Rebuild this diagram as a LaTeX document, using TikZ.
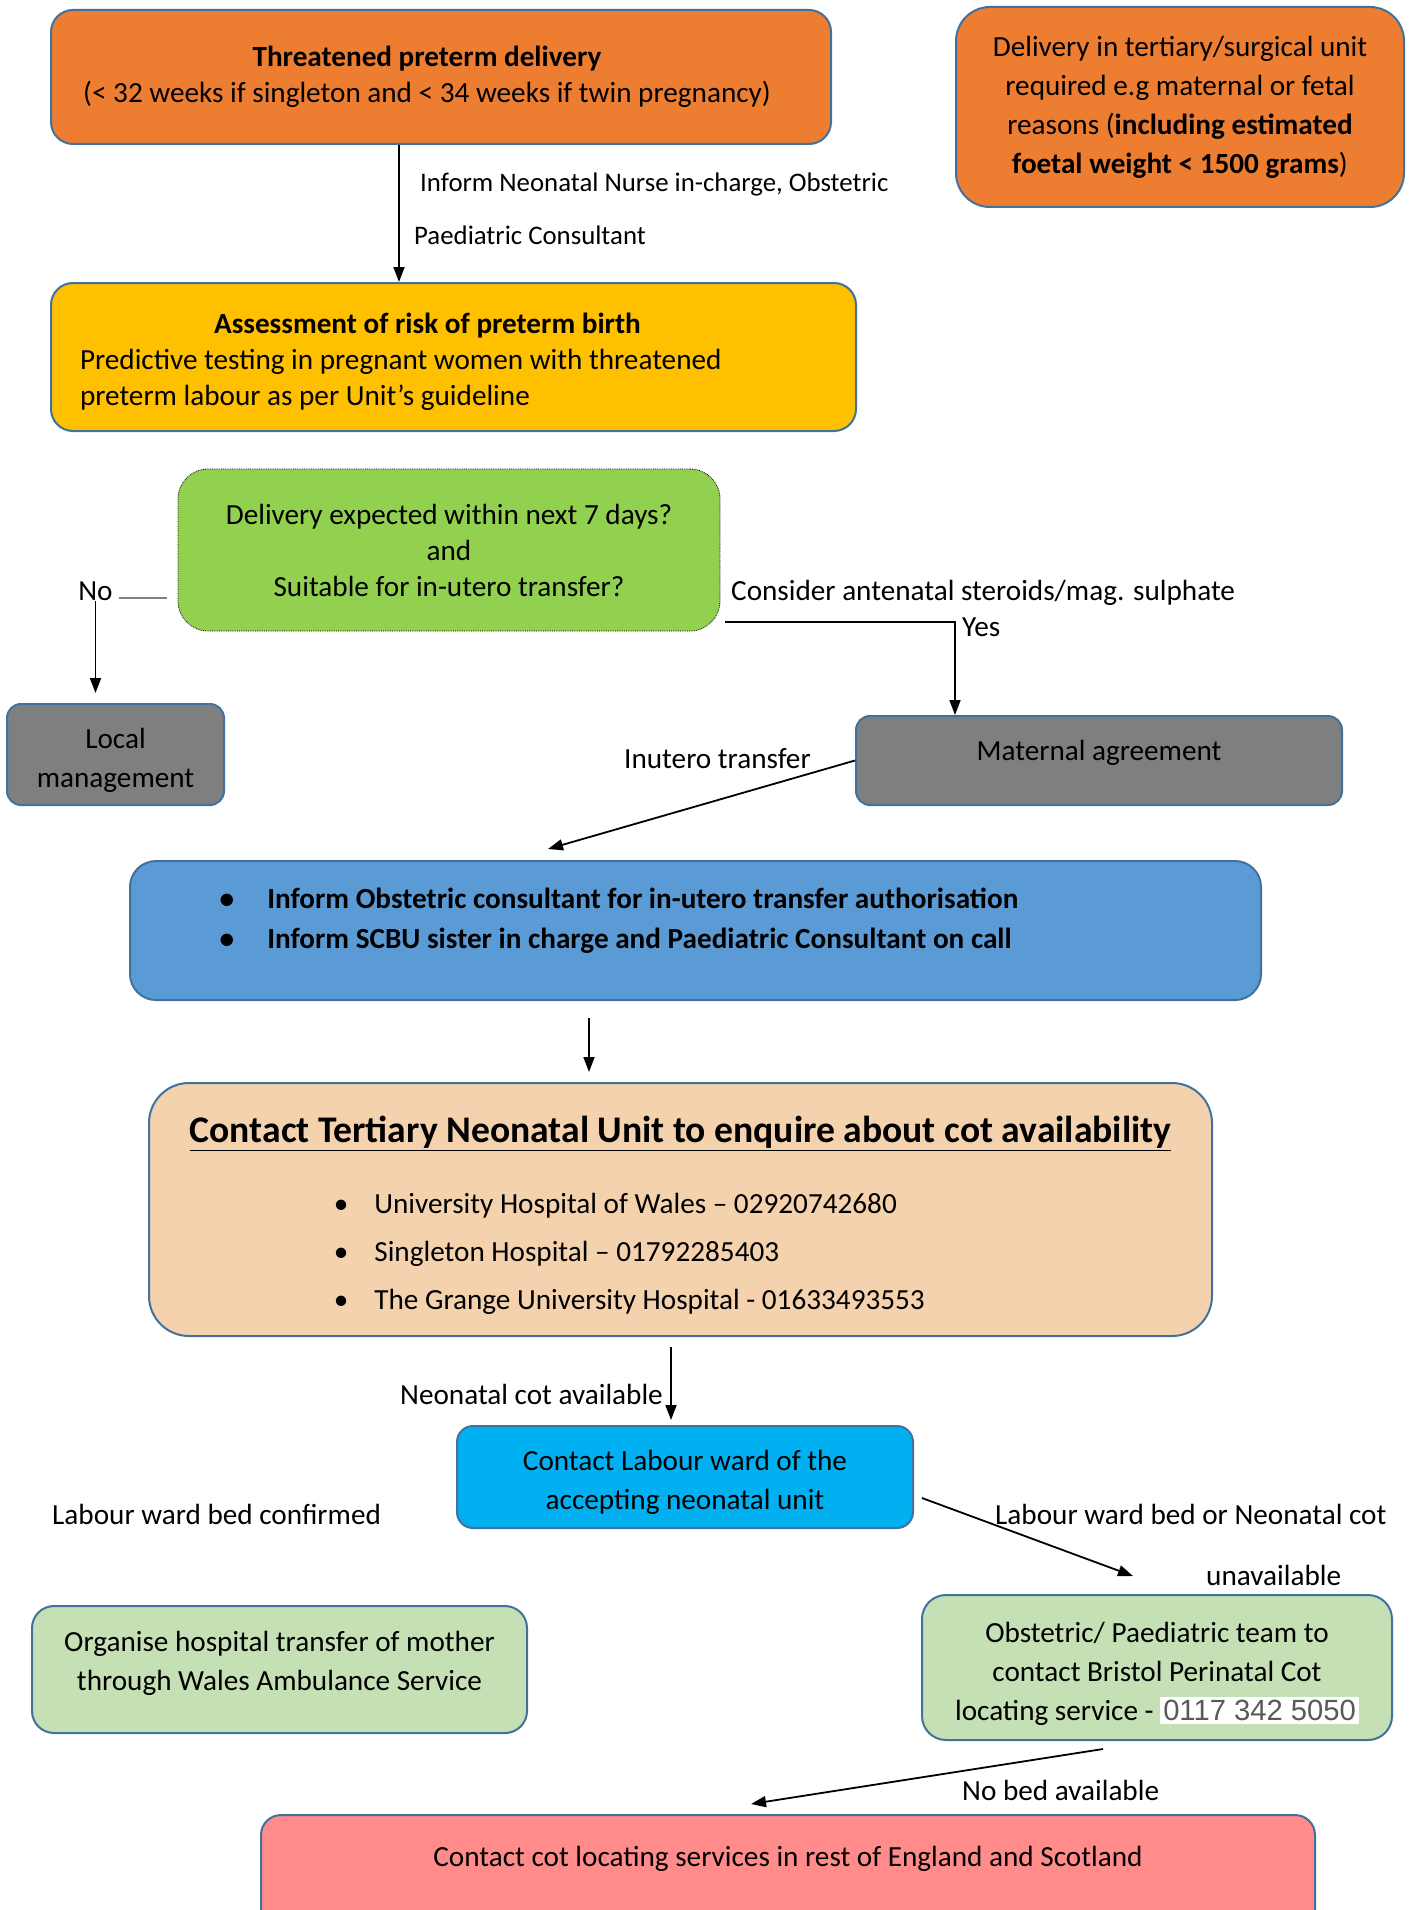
\documentclass[tikz,border=0pt]{standalone}
\usepackage{fontspec}
\setmainfont{Carlito}
\newfontfamily\arialfont{Liberation Sans}
\usetikzlibrary{arrows.meta,calc}

\definecolor{edgeblue}{HTML}{41719C}
\definecolor{orangeF}{HTML}{ED7D31}
\definecolor{goldF}{HTML}{FFC000}
\definecolor{greenF}{HTML}{92D050}
\definecolor{grayF}{HTML}{7F7F7F}
\definecolor{blueF}{HTML}{5B9BD5}
\definecolor{peachF}{HTML}{F4D2AE}
\definecolor{cyanF}{HTML}{00B0F0}
\definecolor{mintF}{HTML}{C5E0B4}
\definecolor{pinkF}{HTML}{FF8B8B}
\definecolor{phonegray}{HTML}{595959}

% move a box up / down by half of #1
\newcommand{\liftby}[2]{\raisebox{0pt}[\height][\dimexpr\depth+#1\relax]{#2}}
\newcommand{\dropby}[2]{\raisebox{0pt}[\dimexpr\height+#1\relax][\depth]{#2}}

\tikzset{
  box/.style={draw=edgeblue, line width=2pt, rounded corners=22pt, inner sep=0pt},
  lbl/.style={inner sep=0pt},
  small/.style={inner sep=0pt, font=\fontsize{26.8}{36}\selectfont},
  arr/.style={line width=1.8pt, -{Triangle[length=15pt,width=11pt]}}
}

\begin{document}
\begin{tikzpicture}[x=1pt, y=-1pt, font=\fontsize{29.2}{39}\selectfont]
\useasboundingbox (0,0) rectangle (1414,1910);

% boxes
\node[box, fill=orangeF, minimum width=780pt, minimum height=134pt] (thr) at (441,77)
  {\hspace*{-28pt}\begin{tabular}{@{}c@{}}\textbf{Threatened preterm delivery}\\[-3pt](< 32 weeks if singleton and < 34 weeks if twin pregnancy)\end{tabular}};
\node[box, fill=orangeF, rounded corners=34pt, align=center, minimum width=448pt, minimum height=200pt] (ter) at (1180,107)
  {Delivery in tertiary/surgical unit\\required e.g maternal or fetal\\reasons (\textbf{including estimated}\\\textbf{foetal weight < 1500 grams})};
\node[box, fill=goldF, minimum width=805pt, minimum height=148pt] (ass) at (453.5,357)
  {\hspace*{-52pt}\dropby{10pt}{\begin{tabular}{@{}l@{}}
    \makebox[695pt]{\textbf{Assessment of risk of preterm birth}}\\[-3pt]
    Predictive testing in pregnant women with threatened\\[-3pt]
    preterm labour as per Unit’s guideline
  \end{tabular}}};
\node[box, draw=black, line width=0.8pt, densely dotted, fill=greenF, rounded corners=30pt, align=center,
      minimum width=542pt, minimum height=162pt] (dec) at (449,550)
  {Delivery expected within next 7 days?\\[-3pt]and\\[-3pt]Suitable for in-utero transfer?};
\node[box, fill=grayF, rounded corners=14pt, minimum width=217pt, minimum height=101pt] (loc) at (115.5,754.5)
  {\dropby{12pt}{\begin{tabular}{@{}c@{}}Local\\management\end{tabular}}};
\node[box, fill=grayF, rounded corners=14pt, minimum width=486pt, minimum height=89pt] (mat) at (1099,760.5)
  {\liftby{16pt}{Maternal agreement}};
\node[box, fill=blueF, rounded corners=26pt, minimum width=1131pt, minimum height=139pt] (inf) at (695.5,930.5)
  {\hspace*{-153pt}\liftby{19pt}{\begin{tabular}{@{}l@{}}
    \textbf{\textbullet\hspace{33pt}Inform Obstetric consultant for in-utero transfer authorisation}\\[1pt]
    \textbf{\textbullet\hspace{33pt}Inform SCBU sister in charge and Paediatric Consultant on call}
  \end{tabular}}};
\node[box, fill=peachF, rounded corners=40pt, minimum width=1063pt, minimum height=253pt] (tert) at (680.5,1209.5)
  {\dropby{18pt}{\begin{tabular}{@{}l@{}}
    {\fontsize{37.6}{44}\selectfont\bfseries\underline{Contact Tertiary Neonatal Unit to enquire about cot availability}}\\[32pt]
    \hspace*{144pt}\textbullet\hspace{26pt}University Hospital of Wales – 02920742680\\[9pt]
    \hspace*{144pt}\textbullet\hspace{26pt}Singleton Hospital – 01792285403\\[9pt]
    \hspace*{144pt}\textbullet\hspace{26pt}The Grange University Hospital - 01633493553
  \end{tabular}}};
\node[box, fill=cyanF, rounded corners=16pt, minimum width=456pt, minimum height=102pt] (lab) at (685,1477)
  {\dropby{10pt}{\begin{tabular}{@{}c@{}}Contact Labour ward of the\\accepting neonatal unit\end{tabular}}};
\node[box, fill=mintF, rounded corners=22pt, minimum width=495pt, minimum height=127pt] (amb) at (279.5,1669.5)
  {\liftby{12pt}{\begin{tabular}{@{}c@{}}Organise hospital transfer of mother\\through Wales Ambulance Service\end{tabular}}};
\node[box, fill=mintF, rounded corners=24pt, minimum width=470pt, minimum height=145pt] (bri) at (1157,1667.5)
  {\dropby{12pt}{\begin{tabular}{@{}c@{}}Obstetric/ Paediatric team to\\contact Bristol Perinatal Cot\\locating service - {\setlength{\fboxsep}{3pt}\colorbox{white}{\arialfont\color{phonegray}0117 342 5050}}\end{tabular}}};
\node[box, fill=pinkF, rounded corners=20pt, minimum width=1054pt, minimum height=145pt] (eng) at (788,1887.5)
  {\liftby{57pt}{Contact cot locating services in rest of England and Scotland}};

% labels
\node[small, anchor=west] (inf1) at (420,184) {Inform Neonatal Nurse in-charge, Obstetric};
\node[small, anchor=west] (inf2) at (414,235) {Paediatric Consultant};
\node[lbl] (no) at (95.5,591) {No};
\node[lbl, anchor=west] (cons) at (731,593) {Consider antenatal steroids/mag. sulphate};
\node[lbl, anchor=west] (yes) at (962,627) {Yes};
\node[lbl, anchor=west] (inut) at (624,759) {Inutero transfer};
\node[lbl, anchor=east] (ncot) at (663,1394) {Neonatal cot available};
\node[lbl, anchor=west] (lwc) at (52,1514) {Labour ward bed confirmed};
\node[lbl, anchor=west] (lwn) at (995,1514) {Labour ward bed or Neonatal cot};
\node[lbl, anchor=west] (unav) at (1206,1575) {unavailable};
\node[lbl, anchor=west] (nob) at (962,1790) {No bed available};

% connectors
\draw[arr] (399,0 |- thr.south) -- (399,0 |- ass.north);
\draw[gray, line width=1.5pt] ([xshift=6pt,yshift=-7pt]no.east) -- ([xshift=-11pt,yshift=-48pt]dec.west);
\draw[arr, shorten >=10pt] (no.south) -- (no.south |- loc.north);
\draw[arr] ([xshift=5pt,yshift=-72pt]dec.east) -| ([xshift=-144pt]mat.north);
\draw[arr] (mat.west) -- ([xshift=-147.5pt,yshift=11pt]inf.north);
\draw[arr, shorten <=17pt, shorten >=10pt] (589,0 |- inf.south) -- (589,0 |- tert.north);
\draw[arr, shorten <=10pt, shorten >=5pt] (671,0 |- tert.south) -- (671,0 |- lab.north);
\draw[arr] ([xshift=8pt,yshift=-21pt]lab.east) -- ([xshift=-24pt,yshift=18pt]bri.north);
\draw[arr] ([xshift=-54pt,yshift=-8pt]bri.south) -- ([xshift=-37pt,yshift=10pt]eng.north);
\end{tikzpicture}
\end{document}
